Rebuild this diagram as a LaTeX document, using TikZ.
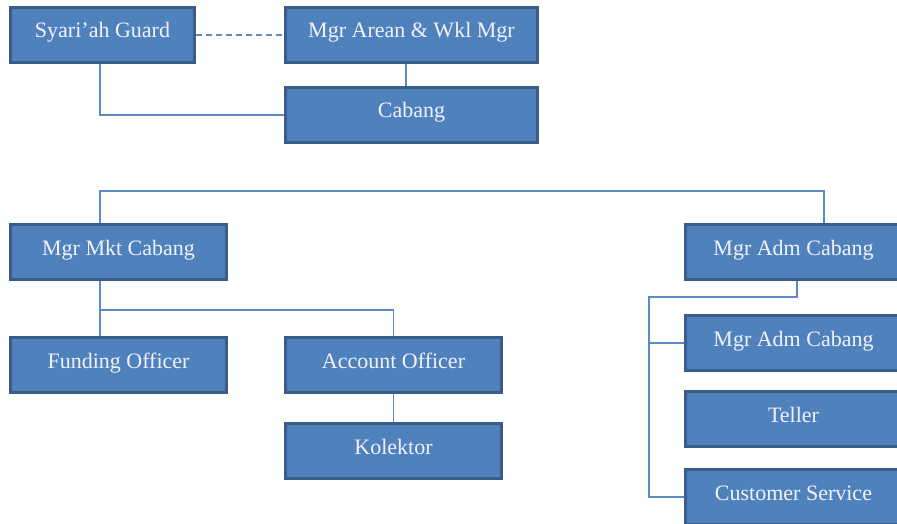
\documentclass[tikz,border=0pt]{standalone}
\usepackage{fontspec}
\setmainfont{Liberation Serif}
\usepackage{tikz}

\definecolor{boxfill}{HTML}{4F81BD}
\definecolor{boxline}{HTML}{385D8A}
\definecolor{linkcol}{HTML}{5B8AC6}

\begin{document}
\begin{tikzpicture}[x=1pt,y=-1pt,
  unit/.style={draw=boxline,line width=3pt,fill=boxfill,text=white!95!blue,
    minimum height=55pt,text height=15pt,text depth=9pt,
    font=\fontsize{22}{26}\selectfont},
  link/.style={draw=linkcol,line width=1.2pt}]
\clip (0,0) rectangle (897,524);
% top level
\node[unit,minimum width=184pt] (guard) at (102.5,35) {Syari'ah Guard};
\node[unit,minimum width=252pt] (arean) at (411.5,35) {Mgr Arean \& Wkl Mgr};
\node[unit,minimum width=252pt] (cabang) at (411.5,115) {Cabang};
% managers
\node[unit,minimum width=216pt] (mkt) at (118.5,252) {Mgr Mkt Cabang};
\node[unit,minimum width=216pt] (adm) at (793.5,252) {Mgr Adm Cabang};
% marketing side
\node[unit,minimum width=216pt] (funding) at (118.5,365) {Funding Officer};
\node[unit,minimum width=216pt] (account) at (393.5,365) {Account Officer};
\node[unit,minimum width=216pt] (kolektor) at (393.5,451) {Kolektor};
% administration side
\node[unit,minimum width=216pt] (adm2) at (793.5,343) {Mgr Adm Cabang};
\node[unit,minimum width=216pt] (teller) at (793.5,419) {Teller};
\node[unit,minimum width=216pt] (service) at (793.5,497) {Customer Service};

\coordinate (busL) at (100,191);
\coordinate (busR) at (824,191);
\coordinate (mktL) at (100,310);
\coordinate (admT) at (797,297);
\coordinate (admL) at (649,297);

\draw[link,dash pattern=on 6pt off 4pt] (guard.east) -- (arean.west);
\draw[link] ([xshift=-2.5pt]guard.south) |- (cabang.west);
\draw[link] ([xshift=-5.5pt]arean.south) -- ([xshift=-5.5pt]cabang.north);
\draw[link] (busL |- mkt.north) -- (busL) -- (busR) -- (busR |- adm.north);
\draw[link] (mktL |- mkt.south) -- (mktL |- funding.north);
\draw[link] (mktL) -| (account.north);
\draw[link] (account.south) -- (kolektor.north);
\draw[link] (admT |- adm.south) -- (admT) -- (admL) |- (service.west);
\draw[link] (admL |- adm2.west) -- (adm2.west);
\end{tikzpicture}
\end{document}
